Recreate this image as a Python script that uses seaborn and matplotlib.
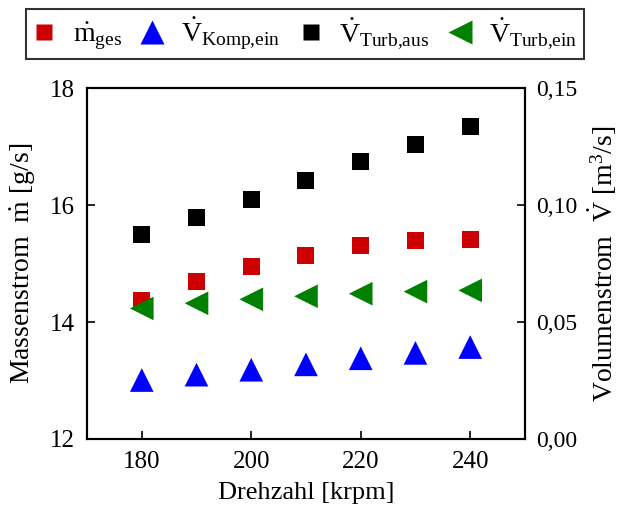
import numpy as np
import pandas as pd
import seaborn as sns
import matplotlib
matplotlib.use("Agg")
import matplotlib.pyplot as plt
from matplotlib.lines import Line2D
from matplotlib.ticker import FuncFormatter

# Speed sweep [krpm]
drehzahl = [180, 190, 200, 210, 220, 230, 240]
# Total mass flow [g/s]
m_ges = [14.36, 14.69, 14.95, 15.14, 15.30, 15.39, 15.41]
# Volume flows [m^3/s]
v_komp_ein = [0.0252, 0.0275, 0.0296, 0.0319, 0.0345, 0.0368, 0.0393]
v_turb_aus = [0.0872, 0.0946, 0.1024, 0.1103, 0.1184, 0.1259, 0.1335]
v_turb_ein = [0.0558, 0.0580, 0.0597, 0.0610, 0.0621, 0.0630, 0.0635]

sns.set_theme(style="ticks")
plt.rcParams["font.family"] = ["Liberation Serif", "DejaVu Serif"]
plt.rcParams["mathtext.fontset"] = "custom"
plt.rcParams["mathtext.rm"] = "Liberation Serif"
plt.rcParams["mathtext.it"] = "Liberation Serif"
plt.rcParams["font.size"] = 18
for key in ("text.color", "axes.labelcolor", "xtick.color", "ytick.color",
            "axes.edgecolor"):
    plt.rcParams[key] = "black"

df_m = pd.DataFrame({"n": drehzahl, "m": m_ges})
df_v = pd.DataFrame({"n": drehzahl, "komp": v_komp_ein,
                     "aus": v_turb_aus, "ein": v_turb_ein})

fig = plt.figure(figsize=(6.19, 5.12), dpi=100)
ax = fig.add_axes([0.1406, 0.1426, 0.7074, 0.6854])
ax2 = ax.twinx()

red, blue, black, green = "#cc0000", "#0000ff", "#000000", "#008000"
sq = 150
tri = 290

sns.scatterplot(data=df_m, x="n", y="m", ax=ax, marker="s", s=sq,
                color=red, edgecolor="none", legend=False)
sns.scatterplot(data=df_v, x="n", y="komp", ax=ax2, marker="^", s=tri,
                color=blue, edgecolor="none", legend=False)
sns.scatterplot(data=df_v, x="n", y="aus", ax=ax2, marker="s", s=sq,
                color=black, edgecolor="none", legend=False)
sns.scatterplot(data=df_v, x="n", y="ein", ax=ax2, marker="<", s=tri,
                color=green, edgecolor="none", legend=False)

ax.set_xlim(170, 250)
ax.set_ylim(12, 18)
ax2.set_ylim(0, 0.15)
ax.set_xticks([180, 200, 220, 240])
ax.set_yticks([12, 14, 16, 18])
ax2.set_yticks([0.0, 0.05, 0.10, 0.15])
ax2.yaxis.set_major_formatter(FuncFormatter(lambda v, p: f"{v:.2f}".replace(".", ",")))

for a in (ax, ax2):
    a.tick_params(direction="in", length=6, width=1.2, labelsize=18, pad=9,
                  colors="black")
    for s in a.spines.values():
        s.set_linewidth(1.5)
        s.set_color("black")
    a.set_facecolor("none")
ax2.tick_params(axis="y", labelsize=17, pad=8)

ax.set_xlabel("Drehzahl [krpm]", fontsize=19, labelpad=6)
ax.set_ylabel(r"Massenstrom  $\dot{\mathrm{m}}$ [g/s]", fontsize=20, labelpad=8)
ax2.set_ylabel(r"Volumenstrom  $\dot{\mathrm{V}}$ [m$^3$/s]", fontsize=20, labelpad=7)

handles = [
    Line2D([], [], ls="none", marker="s", ms=12, color=red, mec="none"),
    Line2D([], [], ls="none", marker="^", ms=17, color=blue, mec="none"),
    Line2D([], [], ls="none", marker="s", ms=12, color=black, mec="none"),
    Line2D([], [], ls="none", marker="<", ms=17, color=green, mec="none"),
]
labels = [r"$\dot{\mathrm{m}}_{\mathrm{ges}}$",
          r"$\dot{\mathrm{V}}_{\mathrm{Komp{,}ein}}$",
          r"$\dot{\mathrm{V}}_{\mathrm{Turb{,}aus}}$",
          r"$\dot{\mathrm{V}}_{\mathrm{Turb{,}ein}}$"]
leg = fig.legend(handles, labels, ncol=4, loc="upper center",
                 bbox_to_anchor=(0.4927, 0.9824), frameon=True, fancybox=False,
                 edgecolor="black", fontsize=20, handlelength=0.8,
                 handletextpad=0.63, columnspacing=0.7, borderpad=0.25,
                 borderaxespad=0.0)
leg.get_frame().set_linewidth(1.5)

fig.savefig("out.png", dpi=100)
